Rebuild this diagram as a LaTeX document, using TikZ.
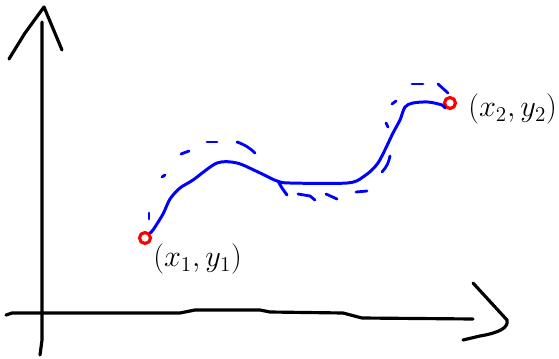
\documentclass[tikz,border=0pt]{standalone}
\usepackage{tikz}
\usetikzlibrary{positioning}

\begin{document}
\begin{tikzpicture}[
    x=0.02cm, y=-0.02cm,
    axis line/.style={
        line width=1.8pt,
        black,
        line cap=round,
        line join=round
    },
    sketch curve/.style={
        line width=1.7pt,
        blue,
        line cap=round,
        line join=round
    },
    guide dash/.style={
        line width=1.6pt,
        blue,
        line cap=round
    },
    end point/.style={
        circle,
        draw=red,
        line width=1.8pt,
        minimum size=0.22cm,
        inner sep=0pt
    },
    point label/.style={
        font=\LARGE,
        inner sep=0pt,
        anchor=west
    }
]
\useasboundingbox (0,0) rectangle (559,359);

% Axes
\draw[axis line] (40,355) -- (42,340) -- (42,22);
\draw[axis line] (9,59) -- (25,33) -- (44,7) -- (62,50);
\draw[axis line] (6,315) -- (12,313) -- (180,313) -- (195,310) -- (260,310)
    -- (270,312) -- (343,313) -- (362,318) -- (473,319);
\draw[axis line] (473,283) -- (507,320) .. controls (509,328) and (498,333) .. (480,336) -- (463,340);

% End points
\node[end point] (p1) at (145,238) {};
\node[end point] (p2) at (450,103) {};
\node[point label] (l1) at (153,259) {$(x_1,y_1)$};
\node[point label] (l2) at (468,109) {$(x_2,y_2)$};

% Curve between the points
\draw[sketch curve] plot[smooth, tension=0.5] coordinates {
    (p1.north east) (153,230) (163,214) (170,199) (180,188) (193,180)
    (217,163) (237,163) (258,172) (277,181) (290,183) (347,183)
    (363,177) (378,163) (393,133) (400,120) (405,107) (413,103)
    (428,102) (442,105) (p2.south west)};
\draw[sketch curve] (278,181) -- (282,188) -- (287,195);

% Dashed offsets
\draw[guide dash] (149,213) -- (149,219);
\draw[guide dash] (162,177) -- (165,175);
\draw[guide dash] (181,154) -- (189,151);
\draw[guide dash] (207,142) -- (217,142);
\draw[guide dash] (237,142) to[bend left=12] (255,153);
\draw[guide dash] (298,194) -- (310,196) -- (315,200);
\draw[guide dash] (326,194) -- (337,199);
\draw[guide dash] (356,192) -- (367,191);
\draw[guide dash] (390,156) to[bend left=15] (382,172);
\draw[guide dash] (386,123) -- (388,127);
\draw[guide dash] (392,104) -- (396,101);
\draw[guide dash] (412,84) -- (423,84);
\draw[guide dash] (438,84) -- (448,93);

\end{tikzpicture}
\end{document}
